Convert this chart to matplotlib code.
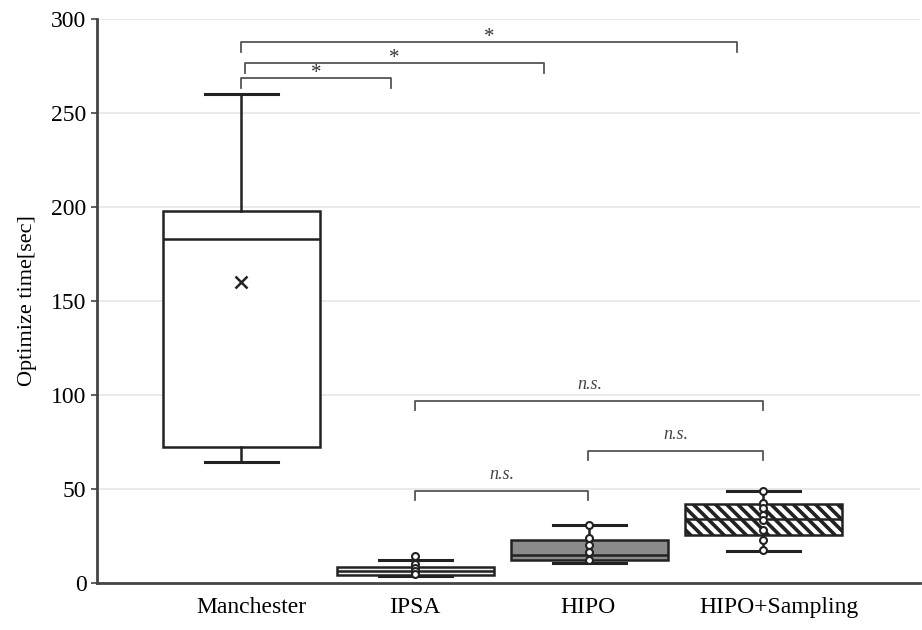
import numpy as np
import matplotlib.pyplot as plt

plt.rcParams['font.family'] = ['Liberation Serif', 'DejaVu Serif']
plt.rcParams['hatch.linewidth'] = 2.6

groups = ["Manchester", "IPSA", "HIPO", "HIPO+Sampling"]
# box stats: whisker low, Q1, median, Q3, whisker high, mean
whislo = [64, 3.8, 10.6, 17]
q1 = [72, 4.3, 12.2, 25.5]
med = [183, 6.0, 15.0, 34]
q3 = [198, 8.5, 22.9, 42]
whishi = [260, 12.2, 30.8, 49]
means = [160, 7.5, 19, 34]

# inner points (only shown for the three right groups)
pts_ipsa = [14.4, 10, 8, 6, 4.5]
pts_hipo = [30.8, 23.9, 20.2, 16.5, 12.2]
pts_samp = [49, 42.5, 40, 36, 33.5, 28, 23, 17.5]

# significance brackets: (x_left, x_right, y, label)
sig = [(1.0, 3.85, 287.8, "*"), (1.02, 2.74, 276.6, "*"), (1.0, 1.86, 268.6, "*")]
ns = [(2.0, 4.0, 96.8, "n.s."), (2.99, 4.0, 70.2, "n.s."), (2.0, 2.99, 49.0, "n.s.")]

fig = plt.figure(figsize=(9.22, 6.3), dpi=100)
ax = fig.add_axes([0.105, 0.075, 0.893, 0.895])

pos = np.arange(1, 5)
stats = []
for i in range(4):
    stats.append(dict(whislo=whislo[i], q1=q1[i], med=med[i], q3=q3[i],
                      whishi=whishi[i], mean=means[i], label=groups[i]))

bp = ax.bxp(stats, positions=pos, widths=0.9, patch_artist=True, showfliers=False,
            showcaps=True,
            boxprops=dict(edgecolor="#222222", linewidth=1.8),
            medianprops=dict(color="#222222", linewidth=1.8),
            whiskerprops=dict(color="#222222", linewidth=1.8),
            capprops=dict(color="#222222", linewidth=2.2))
for c in bp["caps"]:
    m = c.get_xdata().mean()
    c.set_xdata([m - 0.21, m + 0.21])

faces = ["white", "#f2f2f2", "#8a8a8a", "white"]
for b, f in zip(bp["boxes"], faces):
    b.set_facecolor(f)
bp["boxes"][3].set_hatch("\\\\\\")

ax.plot(1, means[0], marker="x", color="#222222", markersize=9, mew=1.8)

for x, p in zip([2, 3, 4], [pts_ipsa, pts_hipo, pts_samp]):
    ax.plot([x] * len(p), p, "o", mfc="white", mec="#222222", ms=5, mew=1.5, zorder=5)

for x1, x2, y, t in sig:
    ax.plot([x1, x1, x2, x2], [y - 5.5, y, y, y - 5.5], color="#555555", lw=1.3)
    ax.text((x1 + x2) / 2, y - 2.5, t, ha="center", va="bottom",
            fontsize=15, color="#333333")

for x1, x2, y, t in ns:
    ax.plot([x1, x1, x2, x2], [y - 5, y, y, y - 5], color="#555555", lw=1.3)
    ax.text((x1 + x2) / 2, y + 4, t, ha="center", va="bottom",
            fontsize=13, style="italic", color="#444444")

ax.set_xlim(0.17, 4.9)
ax.set_ylim(0, 300)
ax.set_yticks(np.arange(0, 301, 50))
ax.set_xticks([1.06, 1.995, 2.99, 4.09])
ax.set_xticklabels(groups, fontsize=17)
ax.tick_params(axis="y", labelsize=17, length=4, width=1.2, color="#444444")
ax.tick_params(axis="x", length=0, pad=10)
ax.set_ylabel("Optimize time[sec]", fontsize=16, labelpad=10)
ax.yaxis.grid(True, color="#e6e6e6", lw=1.2)
ax.set_axisbelow(True)
for s in ["top", "right"]:
    ax.spines[s].set_visible(False)
for s in ["left", "bottom"]:
    ax.spines[s].set_color("#444444")
    ax.spines[s].set_linewidth(2.0)

fig.savefig("out.png", dpi=100)
